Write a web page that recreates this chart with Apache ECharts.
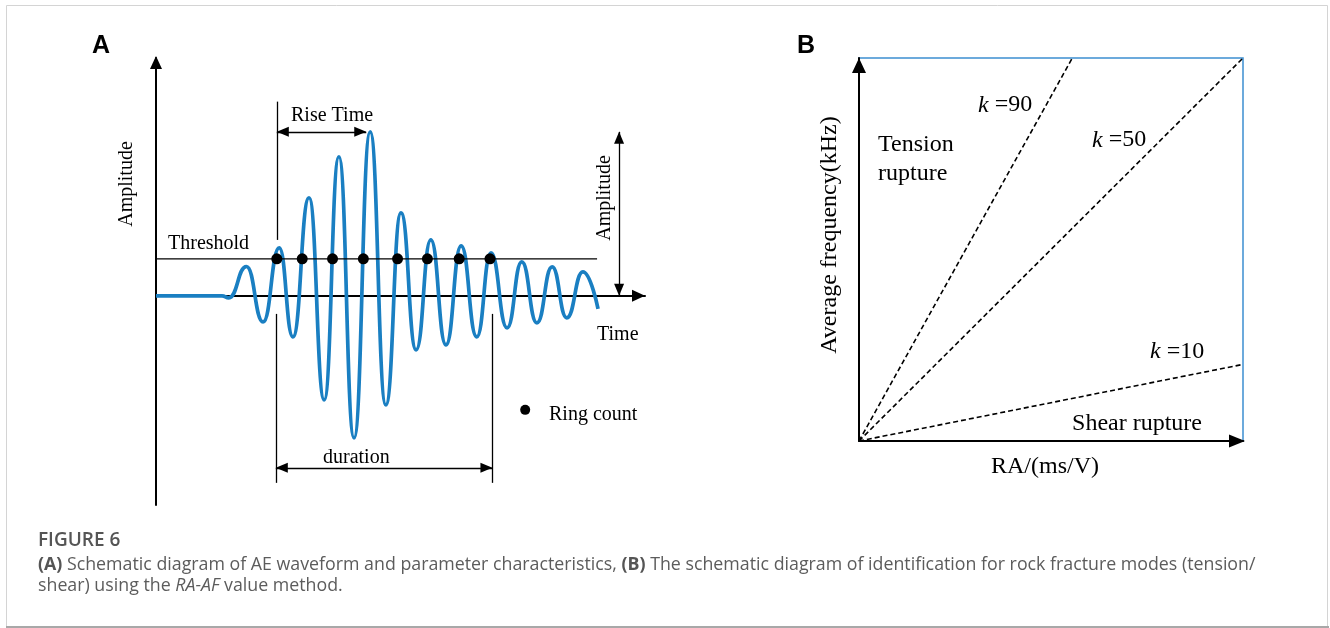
<!DOCTYPE html>
<html>
<head>
<meta charset="utf-8">
<script src="https://cdn.jsdelivr.net/npm/echarts@6/dist/echarts.min.js"></script>
<style>
  html, body { margin: 0; padding: 0; background: #fff; }
  #chart { width: 1330px; height: 628px; }
</style>
</head>
<body>
<div id="chart"></div>
<script>
// ---------- Panel A: AE waveform ----------
// time (arbitrary units) and amplitude (relative units, peak = 100) of the waveform's turning points
const waveTime = [0, 13.5, 14.9, 18.5, 21.9, 25.2, 28.0, 31.3, 34.4, 37.4, 40.5, 43.8, 47.0, 50.1, 53.2, 56.2, 59.3, 62.4, 65.6, 68.5, 71.8, 74.8, 77.9, 81.0, 84.0, 87.3, 90.4];
const waveAmp  = [0, 0, -1.2, 17.9, -15.9, 29.3, -25.0, 59.8, -63.4, 84.8, -86.6, 100, -66.5, 50.6, -32.9, 34.1, -29.9, 30.5, -25.0, 26.2, -19.5, 20.7, -16.5, 17.7, -13.4, 14.6, -7.9];
const thresholdLevel = 22.6;
const thresholdEnd = 90.2;
const ringCountTimes = [24.7, 29.9, 36.1, 42.4, 49.4, 55.5, 62.0, 68.3];
const riseTime = { start: 24.7, end: 43.0, level: 100, guideTop: 118.4, guideBottom: 34.1 };
const amplitudeMark = { time: 94.7, lineStart: 44.8, lineEnd: 100.6 };
const duration = { start: 24.5, end: 68.8, top: -11, bottom: -114, level: -104.8 };
const ringLegend = [75.5, -69.5];

// ---------- Panel B: RA-AF classification ----------
const kValues = [90, 50, 10];
const raMax = 10;    // RA axis extent
const afMax = 500;   // AF axis extent

const SERIF = '"Liberation Serif", "Times New Roman", serif';
const SANS = '"Liberation Sans", Arial, sans-serif';
const CAPTION = '"Open Sans", "Noto Sans", sans-serif';

// filled arrow head whose tip sits at the symbol centre (so it ends exactly on the line end)
const ARROW = 'path://M5,0M0,20L5,10L10,20Z';

const chart = echarts.init(document.getElementById('chart'), null, { renderer: 'canvas' });

const hiddenAxisParts = {
  axisTick: { show: false },
  axisLabel: { show: false },
  splitLine: { show: false }
};

function plain(from, to) {
  return [{ coord: from, symbol: 'none' }, { coord: to, symbol: 'none' }];
}
function arrow2(from, to) {
  return [{ coord: from }, { coord: to }];
}

function kLineEnd(k) {
  return k * raMax <= afMax ? [raMax, k * raMax] : [afMax / k, afMax];
}

function text(x, y, str, font, extra) {
  return Object.assign({
    type: 'text', x: x, y: y, silent: true, z: 101,
    style: Object.assign({ text: str, font: font, fill: '#000', align: 'left', verticalAlign: 'middle' }, (extra && extra.style) || {})
  }, extra && extra.rotation != null ? { rotation: extra.rotation } : {});
}

const option = {
  animation: false,
  backgroundColor: '#fff',
  grid: [
    { left: 156, top: 58, width: 489, height: 447 },
    { left: 859, top: 58, width: 384, height: 383, show: true, borderColor: '#3d8fd1', borderWidth: 1.5, backgroundColor: 'transparent' }
  ],
  xAxis: [
    Object.assign({
      gridIndex: 0, type: 'value', min: 0, max: 100,
      axisLine: { onZero: true, lineStyle: { color: '#000', width: 2 }, symbol: ['none', 'triangle'], symbolSize: [12, 13], symbolOffset: [0, -6.5] }
    }, hiddenAxisParts),
    Object.assign({
      gridIndex: 1, type: 'value', min: 0, max: raMax,
      axisLine: { onZero: false, lineStyle: { color: '#000', width: 2 }, symbol: ['none', 'triangle'], symbolSize: [13, 16], symbolOffset: [0, -6] }
    }, hiddenAxisParts)
  ],
  yAxis: [
    Object.assign({
      gridIndex: 0, type: 'value', min: -127.5, max: 145,
      axisLine: { onZero: false, lineStyle: { color: '#000', width: 2 }, symbol: ['none', 'triangle'], symbolSize: [12, 13], symbolOffset: [0, -4.5] }
    }, hiddenAxisParts),
    Object.assign({
      gridIndex: 1, type: 'value', min: 0, max: afMax,
      axisLine: { onZero: false, lineStyle: { color: '#000', width: 2 }, symbol: ['none', 'triangle'], symbolSize: [14, 15], symbolOffset: [0, -7.5] }
    }, hiddenAxisParts)
  ],
  series: [
    {
      name: 'waveform', type: 'line', xAxisIndex: 0, yAxisIndex: 0,
      data: waveTime.map((t, i) => [t, waveAmp[i]]),
      smooth: 0.5, smoothMonotone: 'x', showSymbol: false, silent: true, z: 3,
      lineStyle: { color: '#1a7fc2', width: 3.7 }
    },
    {
      name: 'threshold', type: 'line', xAxisIndex: 0, yAxisIndex: 0,
      data: [[0, thresholdLevel], [thresholdEnd, thresholdLevel]],
      showSymbol: false, silent: true, z: 4,
      lineStyle: { color: '#000', width: 1.3 }
    },
    {
      name: 'ring count', type: 'scatter', xAxisIndex: 0, yAxisIndex: 0,
      data: ringCountTimes.map(t => [t, thresholdLevel]),
      symbolSize: 11, itemStyle: { color: '#000', opacity: 1 }, silent: true, z: 5
    },
    {
      name: 'ring legend', type: 'scatter', xAxisIndex: 0, yAxisIndex: 0,
      data: [ringLegend], symbolSize: 10, itemStyle: { color: '#000', opacity: 1 }, silent: true, z: 5
    },
    {
      name: 'annotations', type: 'line', xAxisIndex: 0, yAxisIndex: 0, data: [], clip: false, silent: true,
      markLine: {
        silent: true, animation: false,
        symbol: [ARROW, ARROW], symbolSize: [10, 24],
        label: { show: false },
        emphasis: { disabled: true },
        lineStyle: { color: '#000', width: 1.3, type: 'solid' },
        data: [
          plain([riseTime.start, riseTime.guideTop], [riseTime.start, riseTime.guideBottom]),
          arrow2([riseTime.start, riseTime.level], [riseTime.end, riseTime.level]),
          plain([amplitudeMark.lineStart, riseTime.level], [amplitudeMark.lineEnd, riseTime.level]),
          arrow2([amplitudeMark.time, riseTime.level], [amplitudeMark.time, 0]),
          plain([duration.start, duration.top], [duration.start, duration.bottom]),
          plain([duration.end, duration.top], [duration.end, duration.bottom]),
          arrow2([duration.start, duration.level], [duration.end, duration.level])
        ]
      }
    }
  ].concat(kValues.map(k => ({
    name: 'k=' + k, type: 'line', xAxisIndex: 1, yAxisIndex: 1,
    data: [[0, 0], kLineEnd(k)],
    showSymbol: false, silent: true, z: 3,
    lineStyle: { color: '#000', width: 1.6, type: [5, 3] }
  }))),
  graphic: [
    // figure frame
    { type: 'rect', silent: true, z: 1, shape: { x: 6.5, y: 5.5, width: 1321, height: 621 }, style: { fill: 'none', stroke: '#d4d4d4', lineWidth: 1 } },
    { type: 'line', silent: true, z: 1, shape: { x1: 6, y1: 627, x2: 1329, y2: 627 }, style: { stroke: '#a8a8a8', lineWidth: 2 } },

    // panel letters
    text(92, 46.3, 'A', 'bold 25px ' + SANS),
    text(797, 46.3, 'B', 'bold 25px ' + SANS),

    // panel A labels
    text(127, 184, 'Amplitude', '20px ' + SERIF, { rotation: Math.PI / 2, style: { align: 'center' } }),
    text(291, 115.3, 'Rise Time', '20px ' + SERIF),
    text(168, 243.3, 'Threshold', '20px ' + SERIF),
    text(604.3, 198, 'Amplitude', '20px ' + SERIF, { rotation: Math.PI / 2, style: { align: 'center' } }),
    text(597, 335, 'Time', '20px ' + SERIF),
    text(323, 457.3, 'duration', '20px ' + SERIF),
    text(549, 415, 'Ring count', '20px ' + SERIF),

    // panel B labels
    { type: 'rect', silent: true, z: 100, shape: { x: 860, y: 117, width: 100, height: 84 }, style: { fill: '#fff' } },
    text(878, 145.2, 'Tension', '24px ' + SERIF),
    text(878, 173.6, 'rupture', '24px ' + SERIF),
    text(978, 105.2, '{i|k} =90', '24px ' + SERIF, { style: { rich: { i: { font: 'italic 24px ' + SERIF } } } }),
    text(1092, 140.2, '{i|k} =50', '24px ' + SERIF, { style: { rich: { i: { font: 'italic 24px ' + SERIF } } } }),
    text(1150, 352, '{i|k} =10', '24px ' + SERIF, { style: { rich: { i: { font: 'italic 24px ' + SERIF } } } }),
    text(1202, 423.6, 'Shear rupture', '24px ' + SERIF, { style: { align: 'right' } }),
    text(1045, 467, 'RA/(ms/V)', '24px ' + SERIF, { style: { align: 'center' } }),
    text(830, 235, 'Average frequency(kHz)', '24px ' + SERIF, { rotation: Math.PI / 2, style: { align: 'center' } }),

    // caption
    text(38, 540.6, 'FIGURE 6', '600 19px ' + CAPTION, { style: { fill: '#555' } }),
    text(38, 564.8, '{b|(A)} Schematic diagram of AE waveform and parameter characteristics, {b|(B)} The schematic diagram of identification for rock fracture modes (tension/',
      '17.8px ' + CAPTION, { style: { fill: '#5c5c5c', rich: { b: { font: 'bold 17.8px ' + CAPTION, fill: '#555' } } } }),
    text(38, 586.1, 'shear) using the {i|RA-AF} value method.',
      '17.8px ' + CAPTION, { style: { fill: '#5c5c5c', rich: { i: { font: 'italic 17.8px ' + CAPTION, fill: '#5c5c5c' } } } })
  ]
};

chart.setOption(option);
</script>
</body>
</html>
